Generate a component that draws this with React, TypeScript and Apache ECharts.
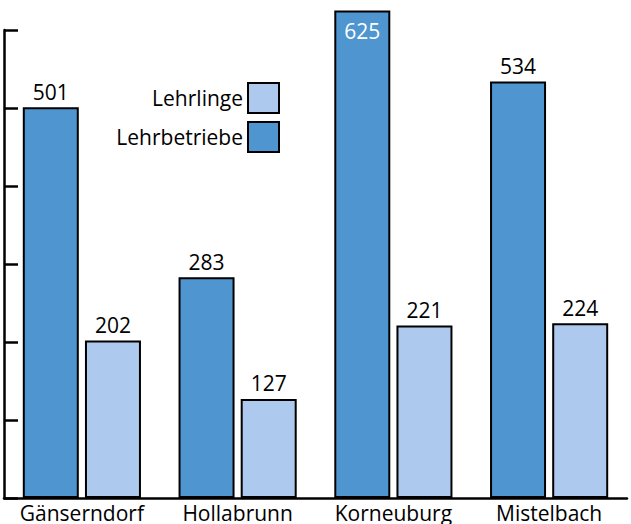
import React, { useEffect, useRef } from "react";
import * as echarts from "echarts";

const categories = ["Gänserndorf", "Hollabrunn", "Korneuburg", "Mistelbach"];
const lehrbetriebe = [501, 283, 625, 534];
const lehrlinge = [202, 127, 221, 224];
const yMax = 600;
const yInterval = 100;

const FONT = "Open Sans";

export default function App() {
  const ref = useRef<HTMLDivElement>(null);
  useEffect(() => {
    if (!ref.current) return;
    const chart = echarts.init(ref.current, null, { renderer: "svg" });
    const labelAbove = {
      show: true,
      position: "top",
      distance: 5,
      color: "#000",
      fontSize: 21,
      fontFamily: FONT,
    };
    chart.setOption({
      animation: false,
      backgroundColor: "#fff",
      grid: { left: 4, right: 4, top: 30, bottom: 26, containLabel: false },
      legend: {
        data: ["Lehrlinge", "Lehrbetriebe"],
        orient: "vertical",
        right: 351,
        top: 82,
        padding: 0,
        align: "right",
        itemWidth: 31,
        itemHeight: 30,
        itemGap: 7,
        textStyle: { fontSize: 21, fontFamily: FONT, color: "#000" },
        icon: "rect",
      },
      xAxis: {
        type: "category",
        data: categories,
        axisLine: { lineStyle: { color: "#000", width: 2.5 } },
        axisTick: { inside: true, length: 10, lineStyle: { color: "#000", width: 2.5 } },
        axisLabel: {
          color: "#000",
          fontSize: 21,
          fontFamily: FONT,
          margin: 4,
          interval: 0,
          hideOverlap: false,
        },
      },
      yAxis: {
        type: "value",
        min: 0,
        max: yMax,
        interval: yInterval,
        splitLine: { show: false },
        axisLine: { show: true, lineStyle: { color: "#000", width: 2.5 } },
        axisTick: { show: true, inside: true, length: 14, lineStyle: { color: "#000", width: 2.5 } },
        axisLabel: { show: false },
      },
      series: [
        {
          name: "Lehrbetriebe",
          type: "bar",
          data: lehrbetriebe.map((v) =>
            v > yMax
              ? {
                  value: v,
                  label: { position: "insideTop", color: "#fff", distance: 10 },
                }
              : v
          ),
          clip: false,
          barWidth: 56,
          barGap: "11%",
          itemStyle: { color: "#4f95d0", borderColor: "#000", borderWidth: 2 },
          label: labelAbove,
        },
        {
          name: "Lehrlinge",
          type: "bar",
          data: lehrlinge,
          clip: false,
          barWidth: 56,
          itemStyle: { color: "#adc9ed", borderColor: "#000", borderWidth: 2 },
          label: labelAbove,
        },
      ],
    });
    return () => chart.dispose();
  }, []);
  return (
    <div
      ref={ref}
      style={{ position: "fixed", left: 0, top: 0, width: 631, height: 524 }}
    />
  );
}
